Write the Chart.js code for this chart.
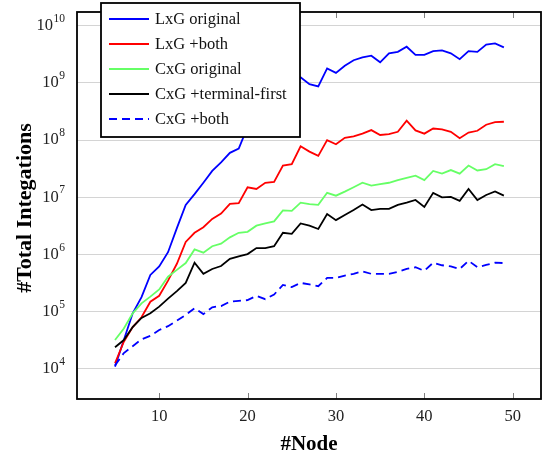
<!DOCTYPE html>
<html>
<head>
<meta charset="utf-8">
<script src="https://cdn.jsdelivr.net/npm/chart.js@4.4.1/dist/chart.umd.min.js"></script>
<style>
  body { margin: 0; background: #fff; }
</style>
</head>
<body>
<canvas id="integrations" width="542" height="454"></canvas>
<script>
var nodes = [5, 6, 7, 8, 9, 10, 11, 12, 13, 14, 15, 16, 17, 18, 19, 20, 21, 22, 23, 24, 25, 26, 27,
    28, 29, 30, 31, 32, 33, 34, 35, 36, 37, 38, 39, 40, 41, 42, 43, 44, 45, 46, 47, 48, 49];

var lxgOriginal = [1.1e4, 3.2e4, 9.4e4, 1.8e5, 4.4e5, 6.2e5, 1.1e6, 2.9e6, 7.4e6, 1.14e7, 1.8e7, 2.9e7,
    4.1e7, 6.0e7, 7.1e7, 1.7e8, 2.8e8, 4.2e8, 6.0e8, 8.3e8, 1.07e9, 1.26e9, 9.5e8, 8.7e8, 1.8e9,
    1.5e9, 2.0e9, 2.5e9, 2.8e9, 3.0e9, 2.3e9, 3.3e9, 3.5e9, 4.3e9, 3.1e9, 3.1e9, 3.6e9, 3.7e9,
    3.3e9, 2.6e9, 3.6e9, 3.5e9, 4.7e9, 4.9e9, 4.2e9];

var lxgBoth = [1.26e4, 3.0e4, 5.4e4, 8.0e4, 1.5e5, 1.9e5, 3.5e5, 6.9e5, 1.66e6, 2.4e6, 3.0e6, 4.2e6,
    5.2e6, 7.7e6, 7.9e6, 1.5e7, 1.4e7, 1.8e7, 1.86e7, 3.6e7, 3.8e7, 7.8e7, 6.3e7, 5.3e7, 1.0e8,
    8.5e7, 1.1e8, 1.16e8, 1.3e8, 1.5e8, 1.23e8, 1.27e8, 1.4e8, 2.2e8, 1.48e8, 1.3e8, 1.6e8, 1.55e8,
    1.4e8, 1.08e8, 1.36e8, 1.46e8, 1.86e8, 2.07e8, 2.1e8];

var cxgOriginal = [3.2e4, 5.1e4, 9.4e4, 1.4e5, 1.84e5, 2.45e5, 4.1e5, 5.4e5, 7.1e5, 1.23e6, 1.08e6,
    1.4e6, 1.55e6, 2.0e6, 2.4e6, 2.5e6, 3.2e6, 3.5e6, 3.8e6, 5.9e6, 5.8e6, 8.1e6, 7.6e6, 7.4e6,
    1.2e7, 1.07e7, 1.26e7, 1.5e7, 1.8e7, 1.6e7, 1.7e7, 1.8e7, 2.0e7, 2.2e7, 2.4e7, 2.0e7, 2.9e7,
    2.6e7, 3.0e7, 2.6e7, 3.6e7, 2.95e7, 3.1e7, 3.8e7, 3.5e7];

var cxgTerminalFirst = [2.4e4, 3.2e4, 5.4e4, 7.8e4, 9.4e4, 1.23e5, 1.7e5, 2.3e5, 3.2e5, 7.2e5, 4.6e5,
    5.6e5, 6.3e5, 8.4e5, 9.3e5, 1.02e6, 1.3e6, 1.3e6, 1.4e6, 2.4e6, 2.3e6, 3.5e6, 3.2e6, 2.8e6,
    5.1e6, 4.0e6, 4.9e6, 6.0e6, 7.5e6, 6.0e6, 6.3e6, 6.3e6, 7.4e6, 8.1e6, 9.0e6, 6.8e6, 1.2e7,
    1.0e7, 1.02e7, 8.7e6, 1.4e7, 9.0e6, 1.1e7, 1.27e7, 1.07e7];

var cxgBoth = [1.15e4, 1.9e4, 2.5e4, 3.3e4, 3.8e4, 4.8e4, 5.6e4, 7.0e4, 8.8e4, 1.15e5, 9.1e4, 1.2e5,
    1.26e5, 1.5e5, 1.55e5, 1.6e5, 1.9e5, 1.66e5, 2.0e5, 2.95e5, 2.7e5, 3.2e5, 3.0e5, 2.8e5, 3.9e5,
    3.9e5, 4.3e5, 4.6e5, 5.1e5, 4.6e5, 4.6e5, 4.6e5, 5.0e5, 5.6e5, 6.0e5, 5.2e5, 7.2e5, 6.5e5,
    6.2e5, 5.6e5, 7.8e5, 6.0e5, 6.6e5, 7.2e5, 7.1e5];

var seriesLabels = ['LxG original', 'LxG +both', 'CxG original', 'CxG +terminal-first', 'CxG +both'];
var yTickExps = [4, 5, 6, 7, 8, 9, 10];
var xTicks = [10, 20, 30, 40, 50];

var serif = '"Liberation Serif", "DejaVu Serif", serif';

function points(vals) {
    return vals.map(function (v, i) { return { x: nodes[i], y: v }; });
}

function series(label, vals, color, order, dash) {
    return {
        label: label,
        data: points(vals),
        borderColor: color,
        borderWidth: 1.8,
        borderDash: dash || [],
        pointRadius: 0,
        fill: false,
        tension: 0,
        order: order
    };
}

// axis frame, tick labels, titles and the legend box are painted by hand
var decorations = {
    id: 'decorations',
    afterDraw: function (chart) {
        var ctx = chart.ctx;
        var area = chart.chartArea;
        var xs = chart.scales.x;
        var ys = chart.scales.y;
        ctx.save();

        // tick marks on top and bottom
        ctx.strokeStyle = '#808080';
        ctx.lineWidth = 1;
        xTicks.forEach(function (t) {
            var px = Math.round(xs.getPixelForValue(t)) + 0.5;
            ctx.beginPath();
            ctx.moveTo(px, area.bottom);
            ctx.lineTo(px, area.bottom - 6);
            ctx.moveTo(px, area.top);
            ctx.lineTo(px, area.top + 6);
            ctx.stroke();
        });

        // frame
        ctx.strokeStyle = '#000';
        ctx.lineWidth = 1.8;
        ctx.strokeRect(area.left, area.top, area.right - area.left, area.bottom - area.top);

        // y tick labels 10^n
        ctx.fillStyle = '#222';
        ctx.textBaseline = 'middle';
        yTickExps.forEach(function (e) {
            var py = ys.getPixelForValue(Math.pow(10, e));
            var exp = String(e);
            ctx.font = '11.5px ' + serif;
            var ew = ctx.measureText(exp).width;
            var right = 65;
            ctx.textAlign = 'left';
            ctx.fillText(exp, right - ew, py - 7);
            ctx.font = '16.5px ' + serif;
            ctx.textAlign = 'right';
            ctx.fillText('10', right - ew - 0.5, py);
        });

        // x tick labels
        ctx.font = '16.5px ' + serif;
        ctx.textAlign = 'center';
        xTicks.forEach(function (t) {
            ctx.fillText(String(t), xs.getPixelForValue(t), 417);
        });

        // axis titles
        ctx.fillStyle = '#000';
        ctx.font = 'bold 21px ' + serif;
        ctx.fillText('#Node', (area.left + area.right) / 2, 445);
        ctx.save();
        ctx.translate(25, 208);
        ctx.rotate(-Math.PI / 2);
        ctx.font = 'bold 22px ' + serif;
        ctx.fillText('#Total Integations', 0, 0);
        ctx.restore();

        // legend
        var lx = 101, ly = 3, lw = 199, lh = 134;
        ctx.fillStyle = '#fff';
        ctx.fillRect(lx, ly, lw, lh);
        ctx.strokeStyle = '#000';
        ctx.lineWidth = 1.8;
        ctx.strokeRect(lx, ly, lw, lh);
        ctx.font = '16.5px ' + serif;
        ctx.textAlign = 'left';
        ctx.fillStyle = '#111';
        seriesLabels.forEach(function (label, i) {
            var ds = chart.data.datasets[i];
            var yy = 19 + i * 25;
            ctx.strokeStyle = ds.borderColor;
            ctx.lineWidth = ds.borderWidth;
            ctx.setLineDash(ds.borderDash);
            ctx.beginPath();
            ctx.moveTo(109, yy);
            ctx.lineTo(149, yy);
            ctx.stroke();
            ctx.setLineDash([]);
            ctx.fillText(label, 155, yy + 1);
        });

        ctx.restore();
    }
};

var integrations = document.getElementById('integrations').getContext('2d');

var chart = new Chart(integrations, {
    type: 'line',
    data: {
        datasets: [
            series(seriesLabels[0], lxgOriginal, '#0000ff', 5),
            series(seriesLabels[1], lxgBoth, '#ff0000', 4),
            series(seriesLabels[2], cxgOriginal, '#66ff66', 3),
            series(seriesLabels[3], cxgTerminalFirst, '#000000', 2),
            series(seriesLabels[4], cxgBoth, '#0000ff', 1, [8, 5])
        ]
    },
    plugins: [decorations],
    options: {
        responsive: false,
        animation: false,
        layout: { padding: { left: 77, top: 12, right: 1, bottom: 55 } },
        plugins: {
            legend: { display: false },
            tooltip: { enabled: false }
        },
        scales: {
            x: {
                type: 'linear',
                min: 0.7,
                max: 53.2,
                grid: { display: false },
                border: { display: false },
                ticks: { display: false },
                afterFit: function (s) { s.height = 0; }
            },
            y: {
                type: 'logarithmic',
                min: 2985,
                max: 1.74e10,
                grid: { color: '#d4d4d4', lineWidth: 1, drawTicks: false },
                border: { display: false },
                ticks: { display: false },
                afterBuildTicks: function (s) {
                    s.ticks = yTickExps.map(function (e) { return { value: Math.pow(10, e) }; });
                },
                afterFit: function (s) { s.width = 0; }
            }
        }
    }
});
</script>
</body>
</html>
